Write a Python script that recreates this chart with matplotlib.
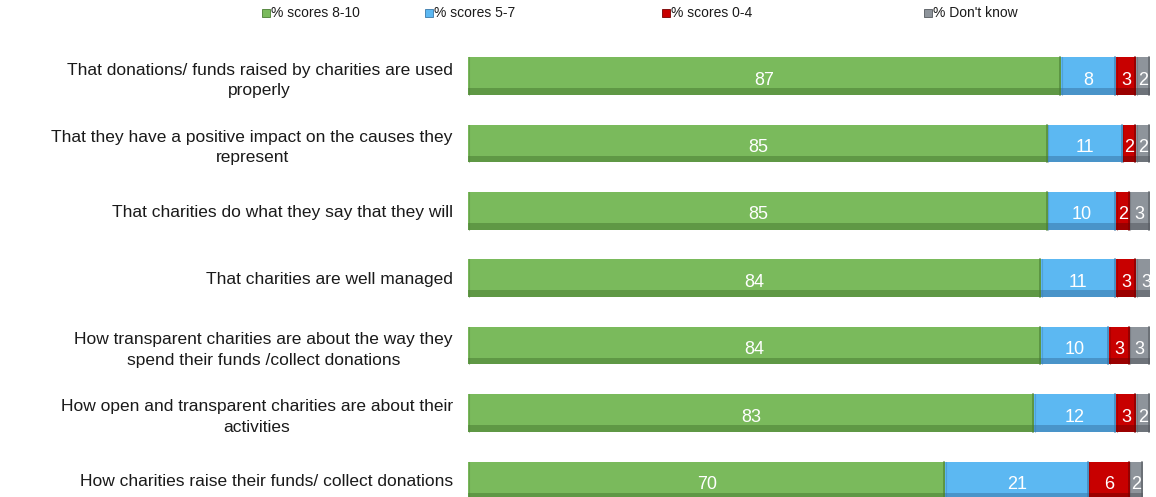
import numpy as np
import matplotlib.pyplot as plt
from matplotlib.patches import Rectangle

plt.rcParams['font.family'] = ['Liberation Sans', 'DejaVu Sans']

statements = [
    'That donations/ funds raised by charities are used\nproperly',
    'That they have a positive impact on the causes they\nrepresent',
    'That charities do what they say that they will',
    'That charities are well managed',
    'How transparent charities are about the way they\nspend their funds /collect donations',
    'How open and transparent charities are about their\nactivities',
    'How charities raise their funds/ collect donations',
]
scores_8_10 = [87, 85, 85, 84, 84, 83, 70]
scores_5_7 = [8, 11, 10, 11, 10, 12, 21]
scores_0_4 = [3, 2, 2, 3, 3, 3, 6]
dont_know = [2, 2, 3, 3, 3, 2, 2]

series = [
    ('% scores 8-10', scores_8_10, '#7aba5c', '#4a7d33'),
    ('% scores 5-7', scores_5_7, '#5cb8f2', '#3a78a8'),
    ('% scores 0-4', scores_0_4, '#c80000', '#760000'),
    ("% Don't know", dont_know, '#8e949b', '#55595f'),
]

fig = plt.figure(figsize=(11.56, 4.97), dpi=100)
ax = fig.add_axes([468 / 1156, 0.0, 682 / 1156, 1 - 42.3 / 497])

y = np.arange(len(statements))
bar_h = 0.56
left = np.zeros(len(statements))
for name, vals, col, dark in series:
    vals = np.array(vals, dtype=float)
    ax.barh(y, vals, left=left, height=bar_h, color=col, edgecolor='none')
    # bevel: darker band along the bottom, thin rims on the sides
    ax.barh(y + bar_h / 2 - 0.05, vals, left=left, height=0.1, color=dark, edgecolor='none', alpha=0.55)
    for yi, l, v in zip(y, left, vals):
        ax.plot([l + v - 0.15] * 2, [yi - bar_h / 2, yi + bar_h / 2], color=dark, lw=1.2, alpha=0.7)
        ax.plot([l + 0.1] * 2, [yi - bar_h / 2, yi + bar_h / 2], color=dark, lw=0.8, alpha=0.35)
        ax.text(l + v / 2, yi + 0.06, f'{int(v)}', ha='center', va='center', color='white', fontsize=13)
    left += vals

ax.set_xlim(0, 100)
ax.set_ylim((497 - 42.3) / 67.4 - 0.5, -0.5)
ax.set_yticks(y)
ax.set_yticklabels(statements, fontsize=12.5, multialignment='center', color='#1a1a1a',
                   linespacing=1.45)
ax.tick_params(axis='y', length=0, pad=11)
ax.set_xticks([])
for s in ax.spines.values():
    s.set_visible(False)

# legend across the top
legend_x = [262, 425, 662, 924]
for (name, vals, col, dark), px in zip(series, legend_x):
    fig.patches.append(Rectangle((px / 1156, 1 - 17 / 497), 8 / 1156, 8 / 497,
                                 transform=fig.transFigure, facecolor=col, edgecolor=dark, lw=0.6))
    fig.text((px + 9) / 1156, 1 - 13 / 497, name, fontsize=10, va='center', ha='left', color='#1a1a1a')

fig.savefig('out.png', dpi=100)
